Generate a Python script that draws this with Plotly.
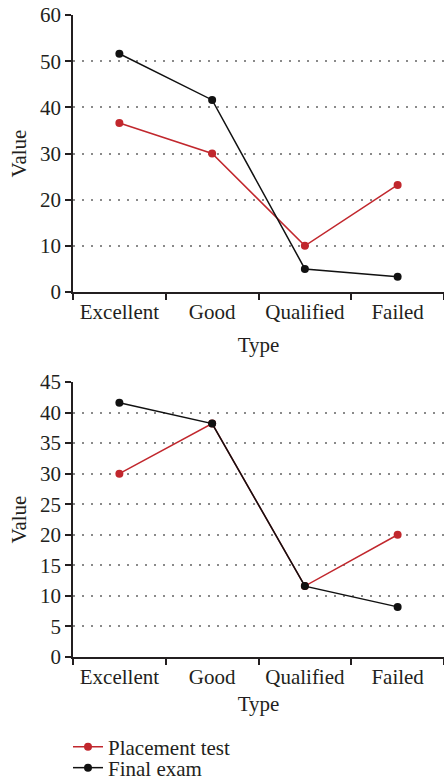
import plotly.graph_objects as go

categories = ["Excellent", "Good", "Qualified", "Failed"]
placement_top = [36.6, 30.0, 10.0, 23.2]
final_top = [51.6, 41.6, 5.0, 3.3]
placement_bottom = [30.0, 38.2, 11.6, 20.0]
final_bottom = [41.6, 38.2, 11.6, 8.2]

RED = "#c1272d"
BLACK = "#111111"
FONT = "Liberation Serif"
TXT = "#231f20"
FS = 21

fig = go.Figure()

def add(x, y, name, color, xa, ya, show, leg):
    fig.add_trace(go.Scatter(
        x=x, y=y, name=name, mode="lines+markers",
        line=dict(color=color, width=1.5),
        marker=dict(color=color, size=8),
        xaxis=xa, yaxis=ya, showlegend=show, legend=leg))

add(categories, placement_top, "Placement test", RED, "x", "y", True, "legend")
add(categories, final_top, "Final exam", BLACK, "x", "y", True, "legend2")
add(categories, placement_bottom, "Placement test", RED, "x2", "y2", False, "legend")
add(categories, final_bottom, "Final exam", BLACK, "x2", "y2", False, "legend2")

H = 780
W = 444
L = 73
def dom(top_px, bot_px):
    return [1 - bot_px / H, 1 - top_px / H]

xcommon = dict(
    type="category", range=[-0.5, 3.5], showline=True, linecolor=TXT, linewidth=1.5,
    ticks="outside", ticklen=6, tickwidth=1.5, tickcolor=TXT, tickson="boundaries",
    showgrid=False, zeroline=False, automargin=False, tickangle=0,
    tickfont=dict(family=FONT, size=FS, color=TXT),
)
ycommon = dict(
    showline=True, linecolor=TXT, linewidth=1.5, ticks="outside", ticklen=6,
    tickwidth=1.5, tickcolor=TXT, showgrid=True, gridcolor="#8a8a8a", griddash="2px,7px",
    gridwidth=2, zeroline=False, automargin=False,
    tickfont=dict(family=FONT, size=FS, color=TXT),
    title=dict(text="Value", font=dict(family=FONT, size=FS, color=TXT), standoff=8),
)

legcommon = dict(
    xanchor="left", yanchor="middle",
    font=dict(family=FONT, size=FS, color=TXT), itemwidth=30,
    bgcolor="rgba(0,0,0,0)", borderwidth=0,
)

fig.update_layout(
    width=W, height=H,
    margin=dict(l=L, r=0, t=0, b=0, autoexpand=False),
    paper_bgcolor="white", plot_bgcolor="white",
    xaxis=dict(**xcommon, domain=[0, 1], anchor="y",
               title=dict(text="Type", font=dict(family=FONT, size=FS, color=TXT), standoff=14)),
    yaxis=dict(**ycommon, domain=dom(15, 292), range=[0, 60], dtick=10, anchor="x"),
    xaxis2=dict(**xcommon, domain=[0, 1], anchor="y2",
                title=dict(text="Type", font=dict(family=FONT, size=FS, color=TXT), standoff=8)),
    yaxis2=dict(**ycommon, domain=dom(382, 657), range=[0, 45], dtick=5, anchor="x2"),
    legend=dict(**legcommon, x=(68 - L) / (W - L), y=1 - 747 / H),
    legend2=dict(**legcommon, x=(68 - L) / (W - L), y=1 - 768 / H),
)

fig.write_html(
    "out.html",
    config={"displayModeBar": False},
    post_script=(
        "var s='margin:0;padding:0;overflow:hidden;height:780px;width:444px;';"
        "document.documentElement.style.cssText=s;document.body.style.cssText=s;"
    ),
)
